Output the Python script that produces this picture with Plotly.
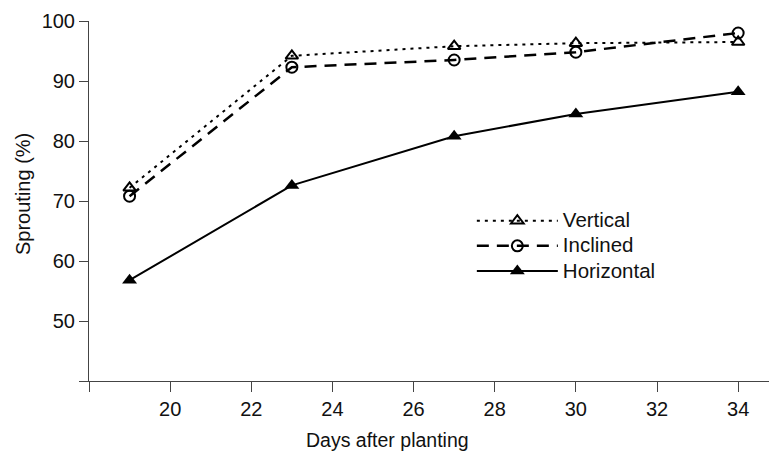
import plotly.graph_objects as go

days = [19, 23, 27, 30, 34]
vertical = [72.2, 94.2, 95.8, 96.3, 96.5]
inclined = [70.8, 92.3, 93.5, 94.8, 98.0]
horizontal = [56.8, 72.6, 80.8, 84.5, 88.2]

series_names = ["Vertical", "Inclined", "Horizontal"]

x_ticks = [18, 20, 22, 24, 26, 28, 30, 32, 34]
x_ticktext = ["", "20", "22", "24", "26", "28", "30", "32", "34"]
y_ticks = [40, 50, 60, 70, 80, 90, 100]
y_ticktext = ["", "50", "60", "70", "80", "90", "100"]

FONT = "Liberation Sans, Arial, sans-serif"


def big(name):
    return "<span style='font-size:20.5px'>" + name + "</span>"


fig = go.Figure()
fig.add_trace(go.Scatter(
    x=days, y=vertical, name=big(series_names[0]), mode="lines+markers",
    line=dict(color="black", width=2, dash="3px,5px"),
    marker=dict(symbol="triangle-up-open", size=11, color="black", line=dict(width=2, color="black")),
))
fig.add_trace(go.Scatter(
    x=days, y=inclined, name=big(series_names[1]), mode="lines+markers",
    line=dict(color="black", width=2.5, dash="12px,8px"),
    marker=dict(symbol="circle-open", size=11, color="black", line=dict(width=2, color="black")),
))
fig.add_trace(go.Scatter(
    x=days, y=horizontal, name=big(series_names[2]), mode="lines+markers",
    line=dict(color="black", width=2),
    marker=dict(symbol="triangle-up", size=13, color="black"),
))

fig.update_layout(
    width=769, height=451,
    margin=dict(l=89, r=0, t=21, b=70),
    paper_bgcolor="white", plot_bgcolor="white",
    font=dict(family=FONT, color="#111", size=19),
    showlegend=True,
    legend=dict(
        x=0.563, y=0.494, xanchor="left", yanchor="top",
        bgcolor="rgba(0,0,0,0)", font=dict(size=17, family=FONT, color="#111"),
        itemwidth=81, tracegroupgap=0,
    ),
    xaxis=dict(
        range=[18, 34.76], tickvals=x_ticks, ticktext=x_ticktext,
        showline=True, linecolor="#444", linewidth=1,
        ticks="outside", ticklen=10, tickcolor="#444", tickwidth=1,
        showgrid=False, zeroline=False,
        tickfont=dict(size=20, family=FONT),
    ),
    yaxis=dict(
        range=[40, 100], tickvals=y_ticks, ticktext=y_ticktext,
        showline=True, linecolor="#444", linewidth=1,
        ticks="outside", ticklen=9, tickcolor="#444", tickwidth=1,
        showgrid=False, zeroline=False,
        tickfont=dict(size=20, family=FONT),
    ),
    annotations=[
        dict(text="Days after planting", xref="paper", yref="paper",
             x=(387 - 89) / 680, y=-(440 - 381) / 360, xanchor="center", yanchor="middle",
             showarrow=False, font=dict(size=19.5, family=FONT, color="#111")),
        dict(text="Sprouting (%)", xref="paper", yref="paper", textangle=-90,
             x=-(89 - 23) / 680, y=(381 - 194) / 360, xanchor="center", yanchor="middle",
             showarrow=False, font=dict(size=20, family=FONT, color="#111")),
    ],
)

fig.write_html("out.html")
